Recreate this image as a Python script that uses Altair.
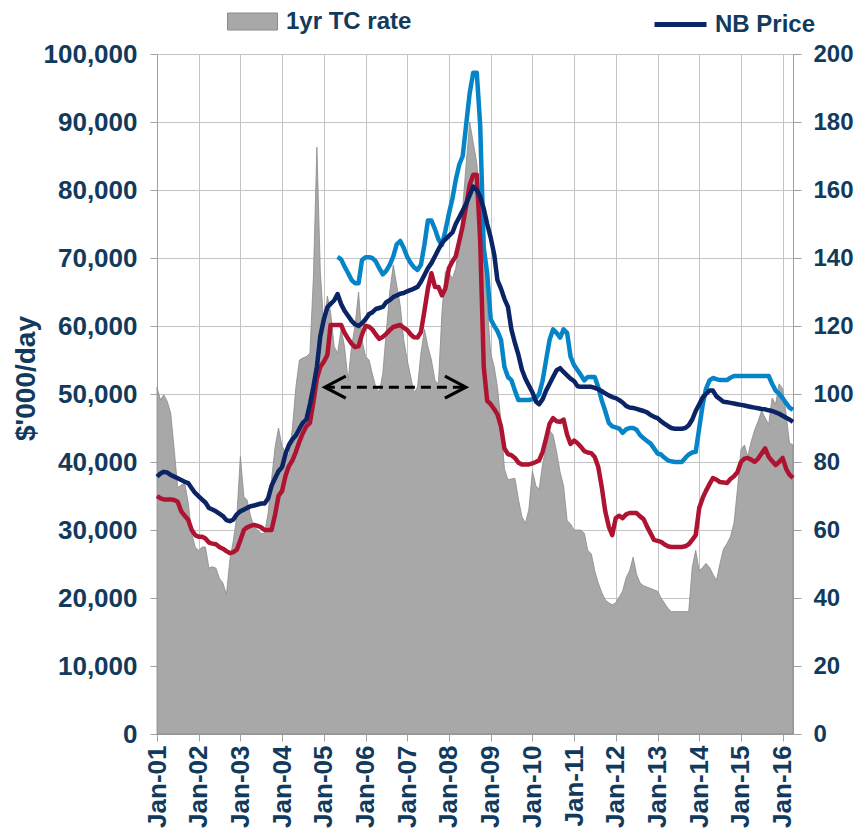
import altair as alt
import pandas as pd

# ---------------- data ----------------
first_month = "2001-01-01"
years = list(range(2001, 2017))

# 1yr TC rate, $'000/day, monthly Jan-01 .. Apr-16
tc_k = [
    51.0, 49.1, 49.9, 48.9, 47.2, 41.8, 36.2, 36.6, 36.9, 34.0, 29.5, 27.5,
    27.0, 27.5, 27.5, 24.4, 24.6, 24.4, 22.9, 22.2, 20.5, 25.6, 28.5, 32.0,
    40.8, 34.9, 34.4, 32.0, 30.5, 30.0, 29.5, 29.5, 32.5, 37.4, 42.2, 45.0,
    42.3, 41.5, 41.0, 45.0, 51.0, 55.0, 55.3, 55.5, 56.0, 67.0, 86.3, 68.0,
    60.0, 64.4, 62.0, 57.0, 56.0, 59.5, 57.0, 52.0, 57.0, 60.0, 65.0, 58.0,
    55.5, 55.0, 53.0, 51.0, 50.2, 53.0, 59.0, 65.0, 69.0, 66.0, 63.0, 58.0,
    55.0, 52.5, 50.2, 51.0, 56.0, 59.5, 57.0, 55.0, 52.0, 51.5, 62.0, 68.0,
    67.8, 67.0, 68.5, 72.0, 77.5, 84.0, 90.0, 87.0, 84.0, 78.0, 72.0, 63.0,
    56.0, 54.0, 51.0, 46.0, 39.0, 37.4, 37.5, 37.6, 34.5, 32.0, 31.0, 33.0,
    38.7, 36.5, 36.0, 39.8, 42.0, 44.6, 44.0, 41.5, 38.5, 36.5, 31.4, 30.9,
    30.0, 30.0, 30.0, 29.5, 27.0, 26.5, 24.0, 22.2, 20.8, 19.7, 19.3, 19.0,
    19.3, 20.2, 21.0, 23.0, 24.0, 26.0, 23.5, 22.2, 21.8, 21.6, 21.4, 21.2,
    21.0, 20.0, 19.3, 18.5, 18.0, 18.0, 18.0, 18.0, 18.0, 18.0, 24.6, 27.0,
    24.0, 24.5, 25.1, 24.5, 23.5, 22.6, 25.0, 27.2, 28.0, 29.0, 31.0, 35.9,
    41.8, 42.5, 40.8, 43.0, 44.7, 46.0, 47.5, 46.5, 45.5, 49.4, 48.5, 51.5,
    50.8, 47.0, 42.8, 42.5,
]

# NB Price (right axis), monthly Jan-01 .. Apr-16
nb_price = [
    75.7, 76.6, 77.1, 76.9, 76.2, 75.7, 75.2, 74.7, 74.2, 73.8, 72.3, 70.9,
    69.9, 68.9, 68.1, 66.5, 66.0, 65.5, 64.8, 64.1, 62.9, 62.6, 63.1, 64.6,
    65.5, 66.0, 66.5, 67.0, 67.2, 67.5, 67.8, 67.8, 69.3, 73.0, 75.2, 77.3,
    78.5, 82.5, 85.0, 86.7, 87.8, 89.8, 91.5, 92.5, 97.0, 102.0, 108.0, 117.0,
    122.0, 125.5, 126.5, 127.5, 129.4, 126.5, 124.5, 123.0, 121.5, 120.5, 120.0, 120.8,
    122.0, 123.5, 124.0, 125.0, 125.3, 125.6, 127.0, 127.6, 128.5, 129.0, 129.5, 129.7,
    130.2, 130.6, 131.0, 131.5, 133.0, 135.0, 137.0, 138.5, 140.5, 142.5, 144.4, 145.5,
    146.5, 147.5, 150.0, 152.0, 154.0, 156.0, 158.5, 161.0, 160.0, 158.0, 154.5, 150.0,
    146.0, 141.0, 133.5, 131.0, 128.0, 125.6, 119.0, 115.0, 111.5, 107.2, 104.5, 102.5,
    100.5, 97.8, 97.0, 98.5, 101.0, 103.0, 105.0, 107.0, 107.6, 106.5, 105.5, 104.5,
    103.8, 102.3, 102.1, 102.1, 102.1, 102.1, 101.8, 101.4, 100.8, 100.2, 99.6, 99.1,
    98.8, 98.2, 97.5, 96.5, 96.0, 95.9, 95.6, 95.3, 95.0, 94.6, 93.8, 93.3,
    92.9, 92.0, 91.3, 90.6, 90.0, 89.8, 89.8, 89.8, 90.0, 90.8, 92.5, 95.0,
    97.0, 99.0, 100.0, 101.0, 101.0, 99.3, 98.5, 97.7, 97.6, 97.4, 97.2, 97.0,
    96.8, 96.6, 96.4, 96.2, 96.0, 95.8, 95.6, 95.5, 95.2, 95.0, 94.6, 94.2,
    93.6, 93.0, 92.5, 91.8,
]

# light-blue series (right axis), monthly May-05 .. Apr-16
lb_first_month = "2005-05-01"
lb_price = [
    140.3, 139.6, 137.5, 135.6, 133.5, 132.6, 132.6, 139.4,
    140.2, 140.2, 140.0, 139.0, 137.0, 135.2, 136.2, 138.0, 140.5, 144.0, 145.0, 143.0,
    140.3, 138.5, 137.3, 136.5, 138.0, 144.0, 151.0, 151.0, 148.5, 145.5, 143.8, 148.0,
    153.0, 157.5, 163.0, 167.5, 170.0, 179.5, 188.5, 194.5, 194.5, 179.0, 143.0, 135.6,
    122.0, 120.0, 118.5, 116.0, 108.0, 105.0, 104.1, 101.0, 98.2, 98.2, 98.2, 98.2,
    98.5, 98.8, 100.0, 104.0, 110.0, 116.0, 119.0, 118.0, 116.6, 119.0, 118.0, 111.0,
    108.5, 107.0, 105.6, 104.0, 105.0, 105.0, 105.0, 102.0, 98.0, 95.0, 91.5, 90.5,
    90.2, 89.8, 88.6, 89.6, 90.0, 90.0, 89.5, 87.9, 87.0, 86.2, 85.4, 84.0,
    82.5, 82.2, 81.3, 80.5, 80.2, 80.0, 80.0, 80.0, 81.2, 82.2, 82.8, 83.0,
    90.0, 97.0, 101.5, 104.0, 104.7, 104.4, 104.1, 104.1, 104.1, 104.8, 105.3, 105.3,
    105.3, 105.3, 105.3, 105.3, 105.3, 105.3, 105.3, 105.3, 105.3, 103.0, 101.0, 100.1,
    98.8, 97.3, 96.0, 95.3,
]

# red series (right axis), monthly Jan-01 .. Apr-16
red_price = [
    70.0, 69.3, 69.0, 69.0, 69.0, 68.8, 68.3, 65.5, 64.2, 63.0, 60.0, 58.5,
    58.0, 58.0, 57.5, 56.3, 56.0, 55.8, 55.0, 54.5, 53.8, 53.2, 53.5, 54.2,
    57.0, 60.0, 60.8, 61.2, 61.5, 61.2, 60.8, 60.0, 60.0, 60.0, 64.5, 70.0,
    71.5, 76.0, 78.8, 80.5, 83.0, 86.0, 88.5, 90.5, 91.5, 97.5, 104.5, 108.0,
    109.5, 111.5, 120.3, 120.3, 120.3, 120.3, 118.0, 116.3, 114.8, 113.8, 114.0, 117.5,
    120.0, 119.8, 119.0, 117.5, 116.2, 116.8, 117.7, 118.8, 119.7, 120.0, 120.3, 119.5,
    118.8, 117.5, 116.7, 116.6, 118.2, 124.5, 131.0, 135.5, 131.5, 131.5, 129.0, 131.0,
    137.0, 139.0, 140.5, 145.0, 149.5, 155.5, 161.5, 164.5, 164.5, 145.0, 108.0, 98.0,
    97.0, 95.5, 94.0, 90.5, 84.0, 82.3, 82.0, 81.2, 79.8, 79.3, 79.3, 79.3,
    79.6, 80.0, 80.5, 83.0, 87.0, 91.3, 92.9, 92.0, 91.8, 92.5, 88.0, 85.3,
    86.3, 85.5, 84.5, 83.2, 82.8, 82.6, 81.5, 78.5, 72.5, 65.5, 61.0, 58.5,
    63.5, 64.2, 63.5, 64.6, 65.0, 65.0, 65.0, 64.0, 63.2, 61.0, 59.0, 57.1,
    56.8, 56.5, 55.8, 55.2, 55.0, 55.0, 55.0, 55.0, 55.2, 55.8, 57.1, 58.5,
    66.5, 69.5, 71.5, 73.5, 75.3, 74.8, 74.1, 74.0, 73.8, 75.0, 75.8, 77.0,
    80.0, 81.0, 81.2, 80.7, 80.0, 81.0, 82.5, 84.0, 81.5, 80.3, 79.1, 80.0,
    81.2, 78.0, 76.3, 75.3,
]

# dashed double arrow (left axis)
arrow_start = "2005-01-10"
arrow_end = "2008-05-28"
arrow_level = 51000

series_names = ["NB Price", "5yr S/H Price", "10yr S/H Price"]
series_colors = ["#0B2466", "#0585C8", "#AE1431"]

# ---------------- tables ----------------
dates = pd.date_range(first_month, periods=len(tc_k), freq="MS")
lb_dates = pd.date_range(lb_first_month, periods=len(lb_price), freq="MS")

tc_df = pd.DataFrame({"date": dates, "value": [v * 1000 for v in tc_k], "series": "1yr TC rate"})
nb_df = pd.DataFrame({"date": dates, "value": nb_price, "series": series_names[0]})
lb_df = pd.DataFrame({"date": lb_dates, "value": lb_price, "series": series_names[1]})
red_df = pd.DataFrame({"date": dates, "value": red_price, "series": series_names[2]})
arrow_df = pd.DataFrame({"start": [pd.Timestamp(arrow_start)], "end": [pd.Timestamp(arrow_end)], "v": [arrow_level]})
head_df = pd.DataFrame({"date": [pd.Timestamp(arrow_start), pd.Timestamp(arrow_end)],
                        "v": [arrow_level, arrow_level], "side": ["L", "R"]})

# ---------------- styling ----------------
FONT = "Liberation Sans"
TXT = "#113A5C"
GRID = "#C4C4C4"
AXL = "#A0A0A0"

x_scale = alt.Scale(domain=[alt.DateTime(year=2001, month=1, date=1),
                            alt.DateTime(year=2016, month=4, date=1)], nice=False)
x_axis = alt.Axis(values=[alt.DateTime(year=y, month=1, date=1) for y in years],
                  format="%b-%y", labelAngle=270, labelFont=FONT, labelFontSize=26,
                  labelFontWeight="bold", labelColor=TXT, labelPadding=4,
                  labelOverlap=False, labelFlush=False, tickSize=7, tickColor=AXL,
                  domainColor=AXL, grid=True, gridColor=GRID, gridWidth=1, title=None)

left_scale = alt.Scale(domain=[0, 100000], nice=False)
left_axis = alt.Axis(values=list(range(0, 100001, 10000)), format=",.0f", labelFont=FONT,
                     labelFontSize=26, labelFontWeight="bold", labelColor=TXT,
                     labelPadding=13, tickSize=7, tickColor=AXL, domainColor=AXL,
                     grid=True, gridColor=GRID, gridWidth=1,
                     title="$'000/day", titleFont=FONT, titleFontSize=28,
                     titleFontWeight="bold", titleColor=TXT, titleAngle=270,
                     titleX=-131, titleY=324, titleAlign="center", titleBaseline="middle")

right_scale = alt.Scale(domain=[0, 200], nice=False)
right_axis = alt.Axis(orient="right", values=list(range(0, 201, 20)), labelFont=FONT,
                      labelFontSize=24, labelFontWeight="bold", labelColor=TXT,
                      labelPadding=12, tickSize=8, tickColor=AXL, domainColor=AXL,
                      grid=False, title=None)

stroke_scale = alt.Scale(domain=series_names, range=series_colors)
stroke_legend = alt.Legend(values=["NB Price"], orient="none", legendX=495, legendY=-58,
                           title=None, symbolType="stroke", symbolSize=2704,
                           symbolStrokeWidth=5, labelFont=FONT, labelFontSize=24,
                           labelFontWeight="bold", labelColor=TXT, labelOffset=6,
                           labelLimit=400, padding=0)

# ---------------- layers ----------------
area = alt.Chart(tc_df).mark_area(stroke="#8A8A8A", strokeWidth=0.8, opacity=1).encode(
    x=alt.X("date:T", scale=x_scale, axis=x_axis),
    y=alt.Y("value:Q", scale=left_scale, axis=left_axis),
    fill=alt.Fill("series:N", scale=alt.Scale(domain=["1yr TC rate"], range=["#A8A8A8"]),
                  legend=alt.Legend(orient="none", legendX=70, legendY=-58, title=None,
                                    symbolType="M-1,-0.34H1V0.34H-1Z", symbolSize=2500,
                                    symbolStrokeColor="#8A8A8A", symbolStrokeWidth=1,
                                    symbolOpacity=1, labelFont=FONT, labelFontSize=24,
                                    labelFontWeight="bold", labelColor=TXT, labelOffset=8,
                                    labelLimit=400, padding=0)),
)

arrow_rule = alt.Chart(arrow_df).mark_rule(color="black", strokeWidth=3, strokeDash=[10, 6]).encode(
    x="start:T", x2="end:T", y="v:Q",
)

arrow_heads = alt.Chart(head_df).mark_point(filled=False, color="black", strokeWidth=3.2,
                                            size=484, opacity=1).encode(
    x="date:T", y="v:Q",
    shape=alt.Shape("side:N", scale=alt.Scale(domain=["L", "R"],
                                              range=["M1.9,-1L0,0L1.9,1", "M-1.9,-1L0,0L-1.9,1"]),
                    legend=None),
)


def line_layer(df, with_axis):
    y = alt.Y("value:Q", scale=right_scale, axis=right_axis) if with_axis else \
        alt.Y("value:Q", scale=right_scale)
    return alt.Chart(df).mark_line(strokeWidth=4.5, strokeJoin="round").encode(
        x=alt.X("date:T", scale=x_scale),
        y=y,
        stroke=alt.Stroke("series:N", scale=stroke_scale, legend=stroke_legend),
    )


left = alt.layer(area, arrow_rule, arrow_heads)
right = alt.layer(line_layer(lb_df, True), line_layer(red_df, False), line_layer(nb_df, False))

chart = alt.layer(left, right).resolve_scale(y="independent").properties(
    width=636, height=680,
    autosize=alt.AutoSizeParams(type="none"),
    padding={"left": 149, "top": 46, "right": 62, "bottom": 95},
).configure_view(stroke=None)

chart.save("out.html", embed_options={"renderer": "svg", "actions": False})
